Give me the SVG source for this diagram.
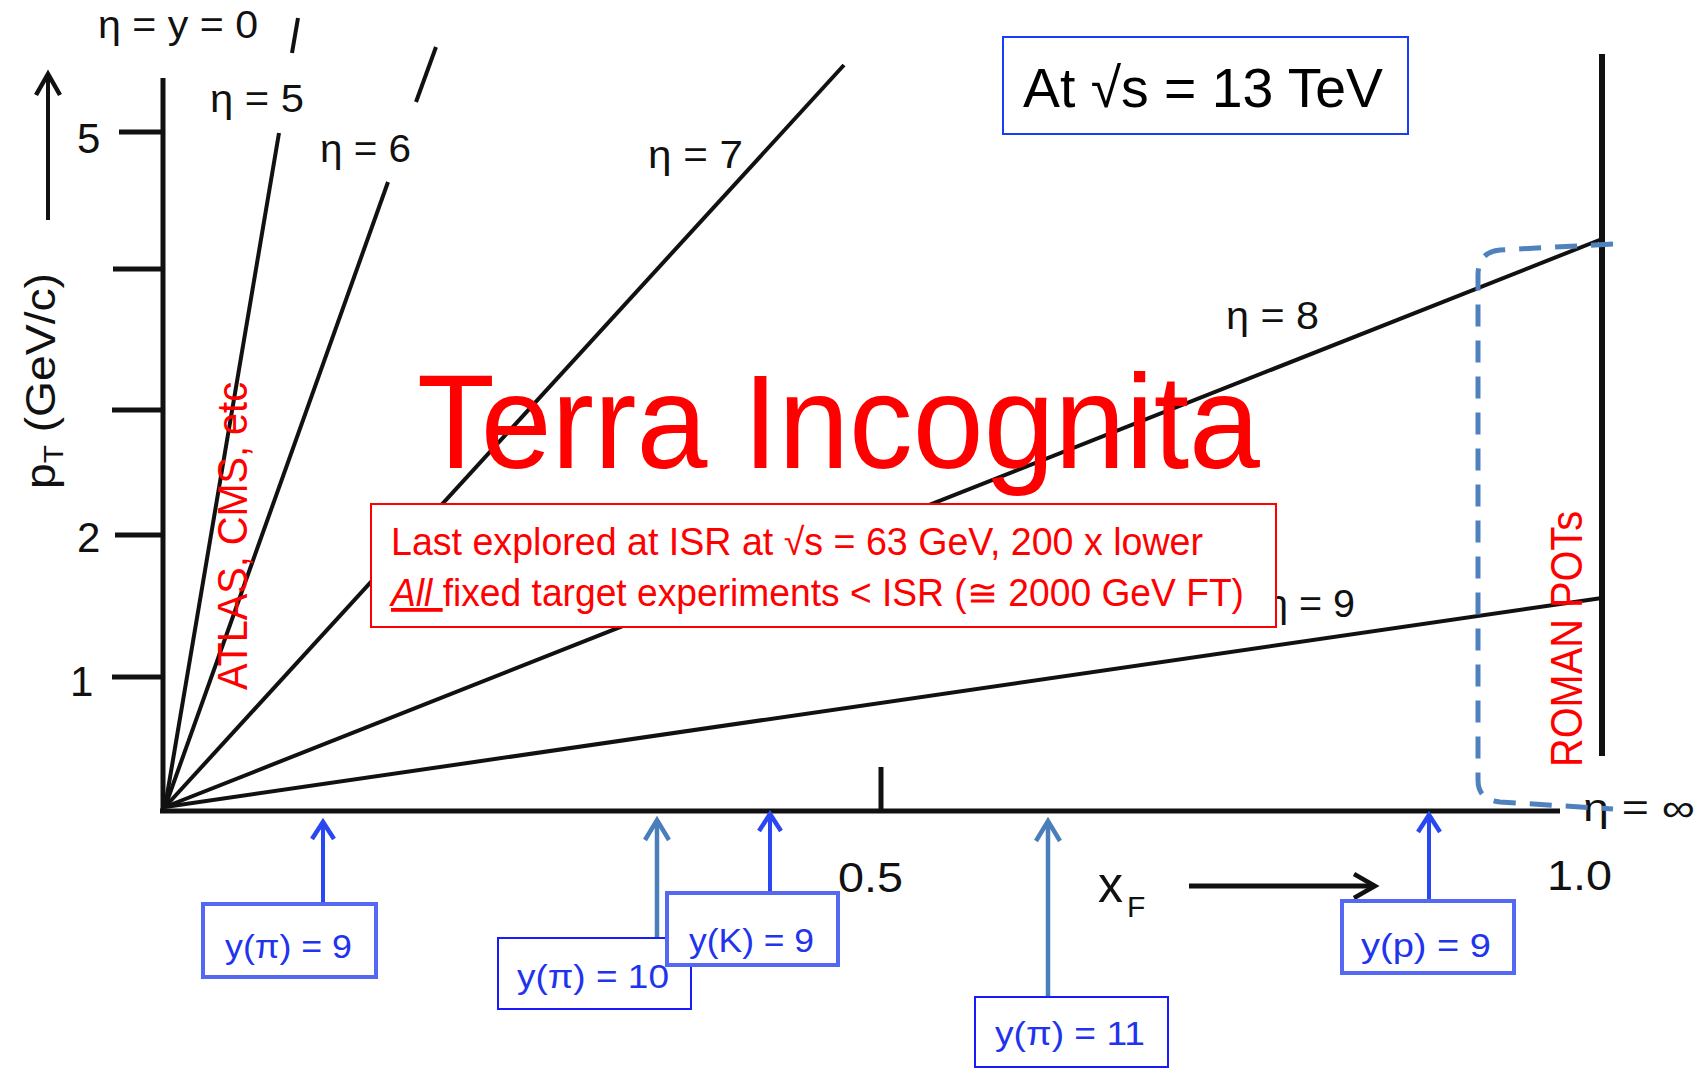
<svg xmlns="http://www.w3.org/2000/svg" width="1706" height="1068" viewBox="0 0 1706 1068">
<style>
text{font-family:"Liberation Sans",Arial,sans-serif}
.lbl{font-size:38px;fill:#111}
.tick{font-size:42px;fill:#111}
.ax{stroke:#111;stroke-width:5;fill:none}
.tk{stroke:#111;stroke-width:5}
.fan{stroke:#111;stroke-width:4;fill:none}
.red{fill:#ff0000}
.bthick{fill:#fff;stroke:#5468f2;stroke-width:4}
.bthin{fill:#fff;stroke:#1a1aff;stroke-width:2}
.btxt{font-size:34px;fill:#2233ee}
.blue{stroke:#2a48f2;stroke-width:4;fill:none}
.steel{stroke:#4a7ebb;stroke-width:4.5;fill:none}
</style>
<defs>
<marker id="hBlue" markerUnits="userSpaceOnUse" orient="auto" overflow="visible" markerWidth="30" markerHeight="30" refX="0" refY="0"><path d="M-17,-11 L0,0 L-17,11" fill="none" stroke="#2a48f2" stroke-width="4.5" stroke-linejoin="miter"/></marker>
<marker id="hSteel" markerUnits="userSpaceOnUse" orient="auto" overflow="visible" markerWidth="30" markerHeight="30" refX="0" refY="0"><path d="M-20,-12 L0,0 L-20,12" fill="none" stroke="#4a7ebb" stroke-width="4.5" stroke-linejoin="miter"/></marker>
<marker id="hBlack" markerUnits="userSpaceOnUse" orient="auto" overflow="visible" markerWidth="30" markerHeight="30" refX="0" refY="0"><path d="M-21,-12 L0,0 L-21,12" fill="none" stroke="#111" stroke-width="4.5" stroke-linejoin="miter"/></marker>
</defs>
<rect width="1706" height="1068" fill="#fff"/>

<g id="axes">
<line class="ax" x1="163" y1="78" x2="163" y2="813"/>
<line class="ax" x1="160" y1="811" x2="1560" y2="811"/>
<line x1="1602" y1="54" x2="1602" y2="756" stroke="#111" stroke-width="6"/>
<line class="tk" x1="119" y1="132" x2="163" y2="132" stroke-width="4"/>
<line class="tk" x1="113" y1="269" x2="163" y2="269" stroke-width="6"/>
<line class="tk" x1="112" y1="410" x2="163" y2="410"/>
<line class="tk" x1="115" y1="535" x2="163" y2="535"/>
<line class="tk" x1="112" y1="677" x2="163" y2="677"/>
<line class="tk" x1="881" y1="767" x2="881" y2="811" stroke-width="4"/>
<line x1="48" y1="220" x2="48" y2="74" stroke="#111" stroke-width="4" marker-end="url(#hBlack)"/>
<line x1="1189" y1="886" x2="1375" y2="886" stroke="#111" stroke-width="5" marker-end="url(#hBlack)"/>
<text class="tick" x="77" y="153">5</text>
<text class="tick" x="77" y="552">2</text>
<text class="tick" x="70" y="696">1</text>
<text class="tick" x="838" y="892" font-size="44" textLength="65" lengthAdjust="spacingAndGlyphs">0.5</text>
<text class="tick" x="1547" y="890" font-size="44" textLength="65" lengthAdjust="spacingAndGlyphs">1.0</text>
<text x="1098" y="902" font-size="50" fill="#111">x</text>
<text x="1127" y="917" font-size="30" fill="#111">F</text>
<text transform="translate(55,489) rotate(-90)" font-size="42" fill="#111" textLength="216" lengthAdjust="spacingAndGlyphs">p<tspan font-size="27" dy="8">T</tspan><tspan dy="-8"> (GeV/c)</tspan></text>
</g>

<g id="fan-lines">
<line class="fan" x1="165" y1="807" x2="279" y2="133"/>
<line class="fan" x1="292" y1="53" x2="298" y2="18"/>
<line class="fan" x1="165" y1="807" x2="388" y2="182"/>
<line class="fan" x1="416" y1="102" x2="436" y2="47"/>
<line class="fan" x1="165" y1="807" x2="844" y2="65"/>
<line class="fan" x1="165" y1="807" x2="1602" y2="239"/>
<line class="fan" x1="165" y1="807" x2="1602" y2="598"/>
</g>

<g id="eta-labels">
<text class="lbl" x="98" y="38" textLength="160" lengthAdjust="spacingAndGlyphs">η = y = 0</text>
<text class="lbl" x="210" y="112" textLength="94" lengthAdjust="spacingAndGlyphs">η = 5</text>
<text class="lbl" x="320" y="162" textLength="91" lengthAdjust="spacingAndGlyphs">η = 6</text>
<text class="lbl" x="648" y="168" textLength="95" lengthAdjust="spacingAndGlyphs">η = 7</text>
<text class="lbl" x="1226" y="329" textLength="93" lengthAdjust="spacingAndGlyphs">η = 8</text>
<text class="lbl" x="1266" y="617" textLength="89" lengthAdjust="spacingAndGlyphs">η = 9</text>
<text class="lbl" x="1583" y="821" textLength="112" lengthAdjust="spacingAndGlyphs">η = ∞</text>
</g>

<g id="roman-pots-region">
<path d="M1613,244 L1500,250 Q1478,252 1478,275 L1478,780 Q1478,800 1500,802 L1613,809" fill="none" stroke="#4f81bd" stroke-width="5" stroke-dasharray="22 14"/>
<text class="red" transform="translate(1582,767) rotate(-90)" font-size="44" textLength="256" lengthAdjust="spacingAndGlyphs">ROMAN POTs</text>
</g>

<g id="atlas-cms">
<text class="red" transform="translate(247,690) rotate(-90)" font-size="42" textLength="308" lengthAdjust="spacingAndGlyphs">ATLAS, CMS, etc</text>
</g>

<g id="terra-incognita">
<text class="red" x="417" y="468" font-size="134" textLength="843" lengthAdjust="spacingAndGlyphs">Terra Incognita</text>
</g>

<g id="isr-box">
<rect x="371" y="504" width="905" height="123" fill="#fff" stroke="#ff0000" stroke-width="2"/>
<text class="red" x="391" y="555" font-size="38" textLength="812" lengthAdjust="spacingAndGlyphs">Last explored at ISR at √s = 63 GeV, 200 x lower</text>
<text class="red" x="391" y="606" font-size="38" textLength="853" lengthAdjust="spacingAndGlyphs"><tspan font-style="italic" text-decoration="underline">All </tspan>fixed target experiments &lt; ISR (≅ 2000 GeV FT)</text>
</g>

<g id="energy-box">
<rect x="1003" y="37" width="405" height="97" fill="#fff" stroke="#1a3cf5" stroke-width="2"/>
<text x="1023" y="107" font-size="56" fill="#000" textLength="360" lengthAdjust="spacingAndGlyphs">At √s = 13 TeV</text>
</g>

<g id="connectors">
<line class="blue" x1="323" y1="905" x2="323" y2="822" marker-end="url(#hBlue)"/>
<line class="steel" x1="657" y1="940" x2="657" y2="820" marker-end="url(#hSteel)"/>
<line class="blue" x1="770" y1="893" x2="770" y2="814" marker-end="url(#hBlue)"/>
<line class="steel" x1="1048" y1="1006" x2="1048" y2="821" marker-end="url(#hSteel)"/>
<line class="blue" x1="1429" y1="901" x2="1429" y2="815" marker-end="url(#hBlue)"/>
</g>

<g id="box-pi9">
<rect class="bthick" x="203" y="904" width="173" height="73"/>
<text class="btxt" x="225" y="958" textLength="127" lengthAdjust="spacingAndGlyphs">y(π) = 9</text>
</g>
<g id="box-pi10">
<rect class="bthin" x="498" y="938" width="193" height="71"/>
<text class="btxt" x="517" y="988" font-size="36" fill="#1a1aff" textLength="152" lengthAdjust="spacingAndGlyphs">y(π) = 10</text>
</g>
<g id="box-k9">
<rect class="bthick" x="667" y="893" width="171" height="72"/>
<text class="btxt" x="689" y="952" textLength="125" lengthAdjust="spacingAndGlyphs">y(K) = 9</text>
</g>
<g id="box-pi11">
<rect class="bthin" x="975" y="997" width="193" height="70"/>
<text class="btxt" x="995" y="1045" font-size="36" fill="#1a1aff" textLength="150" lengthAdjust="spacingAndGlyphs">y(π) = 11</text>
</g>
<g id="box-p9">
<rect class="bthick" x="1342" y="901" width="172" height="72"/>
<text class="btxt" x="1361" y="957" textLength="130" lengthAdjust="spacingAndGlyphs">y(p) = 9</text>
</g>
</svg>
